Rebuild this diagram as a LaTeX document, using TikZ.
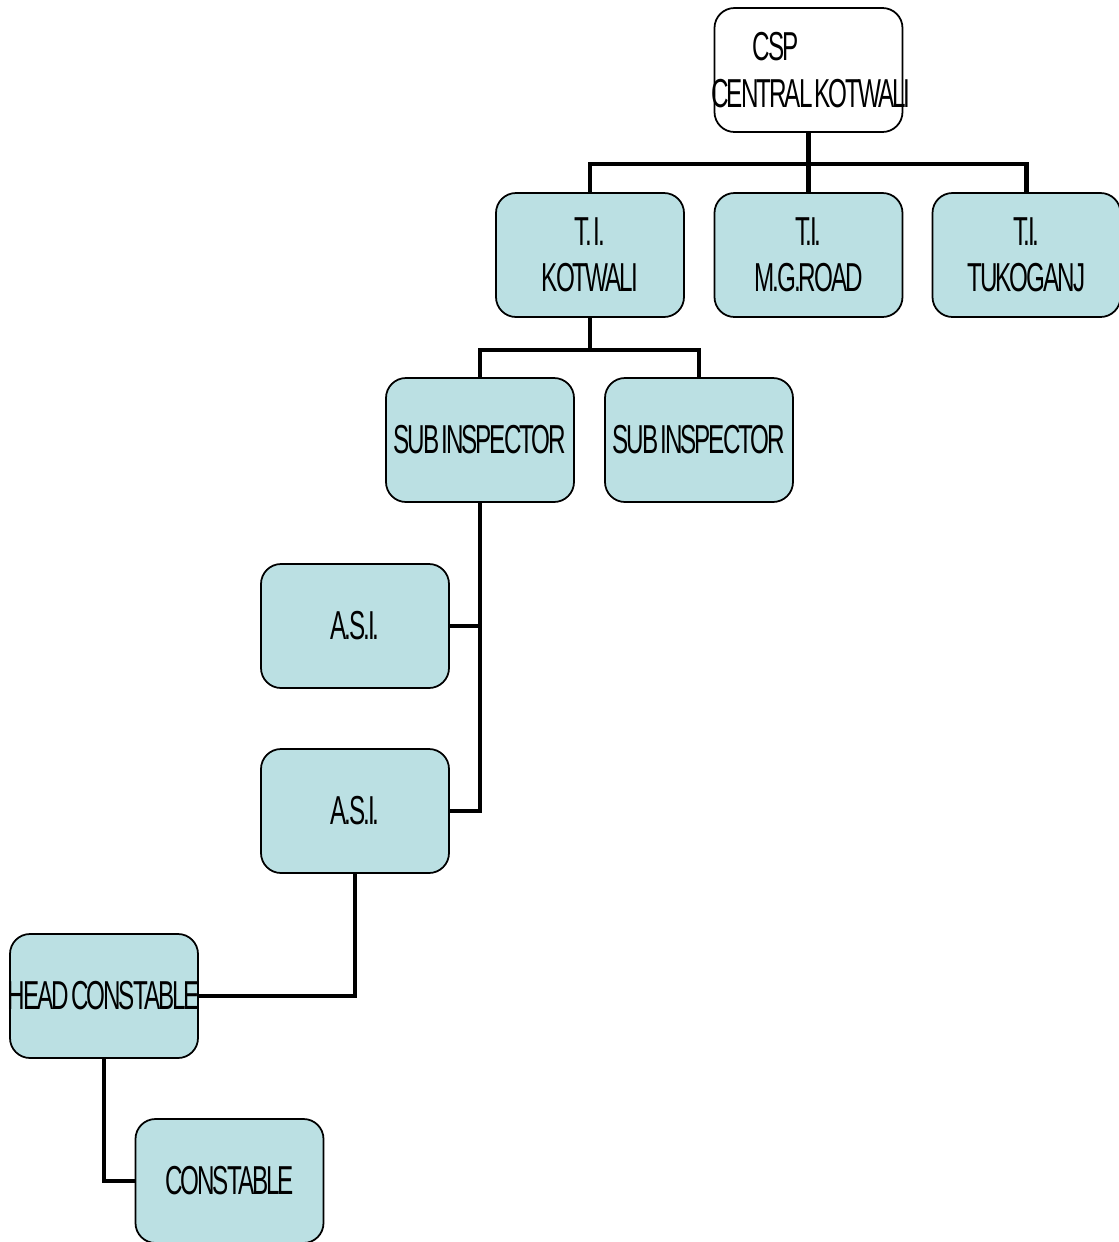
\documentclass[tikz,border=0pt]{standalone}
\usepackage{fontspec}
\newfontfamily\condfont[FakeStretch=0.6,LetterSpace=-5,WordSpace=0.4]{Liberation Sans}
\newcommand{\lbl}[1]{\makebox[0pt][c]{#1}}

\definecolor{boxblue}{HTML}{BBE0E3}

\begin{document}
\begin{tikzpicture}[
  post/.style={draw=black, line width=1pt, rounded corners=0.4cm,
    fill=boxblue, minimum width=3.76cm, minimum height=2.48cm,
    inner sep=0pt, align=center,
    font=\condfont\fontsize{23}{26.5}\selectfont},
  conn/.style={line width=2.6pt}]
  \useasboundingbox (0,0) rectangle (22.38,-24.84);

  % top post
  \node[post, fill=white] (csp) at (16.17,-1.40)
    {\lbl{CSP\hspace*{1.32cm}}\\\lbl{\hspace*{0.1cm}CENTRAL KOTWALI}};

  % town inspectors
  \node[post] (tikot) at (11.80,-5.10) {\lbl{T. I.}\\\lbl{KOTWALI}};
  \node[post] (timg)  at (16.17,-5.10) {\lbl{T.I.}\\\lbl{M.G.ROAD}};
  \node[post] (tituk) at (20.53,-5.10) {\lbl{T.I.}\\\lbl{TUKOGANJ}};

  % sub inspectors
  \node[post] (si1) at (9.60,-8.80)  {\lbl{SUB INSPECTOR}};
  \node[post] (si2) at (13.98,-8.80) {\lbl{SUB INSPECTOR}};

  % assistant sub inspectors
  \node[post] (asi1) at (7.10,-12.52) {\lbl{A.S.I.}};
  \node[post] (asi2) at (7.10,-16.22) {\lbl{A.S.I.}};

  % constables
  \node[post] (hc)  at (2.08,-19.92) {\lbl{HEAD CONSTABLE}};
  \node[post] (con) at (4.59,-23.62) {\lbl{CONSTABLE}};

  % connectors
  \draw[conn] (csp.south) -- ++(0,-0.62) coordinate (bus1);
  \draw[conn] (tikot.north) |- (bus1) -| (tituk.north);
  \draw[conn] (timg.north) -- (bus1);

  \draw[conn] (tikot.south) -- ++(0,-0.64) coordinate (bus2);
  \draw[conn] (si1.north) |- (bus2) -| (si2.north);

  \draw[conn] (si1.south) |- (asi2.east);
  \draw[conn] (asi1.east) -- (asi1.east -| si1.south);

  \draw[conn] (asi2.south) |- (hc.east);
  \draw[conn] (hc.south) |- (con.west);
\end{tikzpicture}
\end{document}
